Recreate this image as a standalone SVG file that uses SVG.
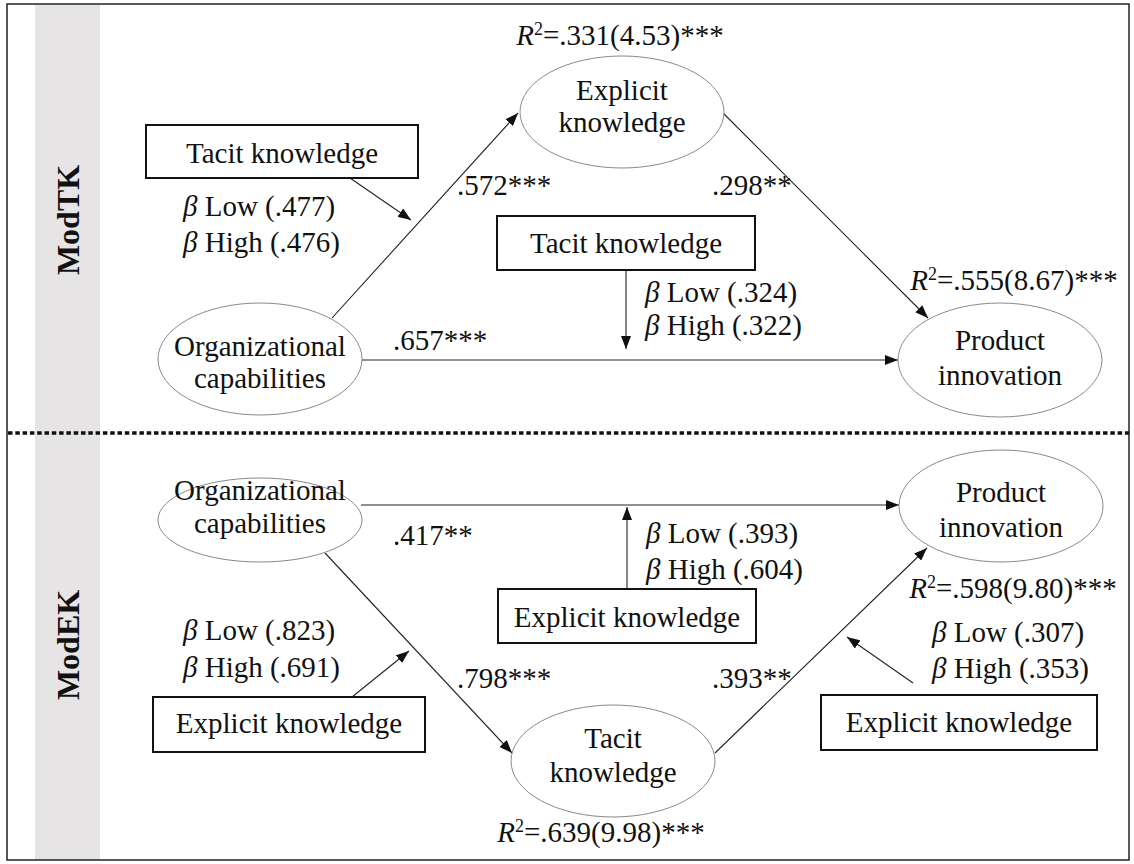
<svg xmlns="http://www.w3.org/2000/svg" width="1134" height="864" viewBox="0 0 1134 864">
<style>
text{font-size:29px;fill:#111}
.mid{text-anchor:middle}
.it{font-style:italic}
.sup{font-size:18px}
.side{font-size:32px;font-weight:bold;text-anchor:middle}
.ell{fill:#fff;stroke:#8a8a8a;stroke-width:1}
.box{fill:#fff;stroke:#111;stroke-width:2}
.con{stroke:#222;stroke-width:1.1;fill:none}
.arr{marker-end:url(#ah)}
</style>
<defs>
<marker id="ah" markerUnits="userSpaceOnUse" markerWidth="14" markerHeight="10" refX="13" refY="5" orient="auto">
<path d="M0,0 L13,5 L0,10 z" fill="#111"/>
</marker>
</defs>
<rect x="0" y="0" width="1134" height="864" fill="#fff"/>
<rect x="35" y="5" width="65" height="855" fill="#e6e4e4"/>
<rect x="7" y="4" width="1122" height="856" fill="none" stroke="#222" stroke-width="1.5"/>
<line x1="8" y1="433" x2="1129" y2="433" stroke="#111" stroke-width="3.5" stroke-dasharray="4.5 2.8"/>
<g font-family="Liberation Serif, Tinos, Times New Roman, DejaVu Serif, serif">
<text class="side" transform="translate(79,220) rotate(-90)">ModTK</text>
<text class="side" transform="translate(79,645) rotate(-90)">ModEK</text>

<g id="connectors">
<line class="con arr" x1="332" y1="318" x2="518" y2="113"/>
<line class="con arr" x1="723" y1="113" x2="928" y2="318"/>
<line class="con arr" x1="362" y1="360" x2="898" y2="360"/>
<line class="con arr" x1="350" y1="178" x2="411" y2="220"/>
<line class="con arr" x1="626" y1="270" x2="626" y2="349"/>
<line class="con arr" x1="361" y1="505" x2="899" y2="505"/>
<line class="con arr" x1="627" y1="589" x2="627" y2="507"/>
<line class="con arr" x1="325" y1="553" x2="512" y2="753"/>
<line class="con arr" x1="715" y1="753" x2="927" y2="548"/>
<line class="con arr" x1="352" y1="697" x2="409" y2="651"/>
<line class="con arr" x1="913" y1="683" x2="847" y2="637"/>
</g>

<g id="labels">
<text x="457" y="195">.572***</text>
<text x="712" y="195">.298**</text>
<text x="393" y="350">.657***</text>
<text x="393" y="545">.417**</text>
<text x="457" y="688">.798***</text>
<text x="712" y="688">.393**</text>
<text x="183" y="216"><tspan class="it">β</tspan> Low (.477)</text>
<text x="183" y="252"><tspan class="it">β</tspan> High (.476)</text>
<text x="645" y="302"><tspan class="it">β</tspan> Low (.324)</text>
<text x="645" y="335"><tspan class="it">β</tspan> High (.322)</text>
<text x="646" y="543"><tspan class="it">β</tspan> Low (.393)</text>
<text x="646" y="579"><tspan class="it">β</tspan> High (.604)</text>
<text x="183" y="640"><tspan class="it">β</tspan> Low (.823)</text>
<text x="183" y="677"><tspan class="it">β</tspan> High (.691)</text>
<text x="932" y="642"><tspan class="it">β</tspan> Low (.307)</text>
<text x="932" y="678"><tspan class="it">β</tspan> High (.353)</text>
<text class="mid" x="620" y="45"><tspan class="it">R</tspan><tspan class="sup" dy="-10">2</tspan><tspan dy="10">=.331(4.53)***</tspan></text>
<text class="mid" x="1014" y="290"><tspan class="it">R</tspan><tspan class="sup" dy="-10">2</tspan><tspan dy="10">=.555(8.67)***</tspan></text>
<text class="mid" x="1013" y="598"><tspan class="it">R</tspan><tspan class="sup" dy="-10">2</tspan><tspan dy="10">=.598(9.80)***</tspan></text>
<text class="mid" x="601" y="842"><tspan class="it">R</tspan><tspan class="sup" dy="-10">2</tspan><tspan dy="10">=.639(9.98)***</tspan></text>
</g>

<g id="top-explicit">
<ellipse class="ell" cx="622" cy="112" rx="102" ry="56"/>
<text class="mid" x="622" y="100">Explicit</text>
<text class="mid" x="622" y="132">knowledge</text>
</g>
<g id="top-org">
<ellipse class="ell" cx="260" cy="359" rx="102" ry="56"/>
<text class="mid" x="260" y="356">Organizational</text>
<text class="mid" x="260" y="388">capabilities</text>
</g>
<g id="top-product">
<ellipse class="ell" cx="1000" cy="360" rx="102" ry="57"/>
<text class="mid" x="1000" y="350">Product</text>
<text class="mid" x="1000" y="385">innovation</text>
</g>
<g id="top-tacit-box1">
<rect class="box" x="146" y="125" width="272" height="53"/>
<text class="mid" x="282" y="163">Tacit knowledge</text>
</g>
<g id="top-tacit-box2">
<rect class="box" x="497" y="216" width="258" height="54"/>
<text class="mid" x="626" y="253">Tacit knowledge</text>
</g>

<g id="bot-org">
<ellipse class="ell" cx="260" cy="520" rx="102" ry="42"/>
<text class="mid" x="260" y="500">Organizational</text>
<text class="mid" x="260" y="533">capabilities</text>
</g>
<g id="bot-product">
<ellipse class="ell" cx="1001" cy="506" rx="102" ry="56"/>
<text class="mid" x="1001" y="502">Product</text>
<text class="mid" x="1001" y="537">innovation</text>
</g>
<g id="bot-tacit">
<ellipse class="ell" cx="613" cy="761" rx="102" ry="56"/>
<text class="mid" x="613" y="748">Tacit</text>
<text class="mid" x="613" y="782">knowledge</text>
</g>
<g id="bot-explicit-box-mid">
<rect class="box" x="498" y="589" width="258" height="54"/>
<text class="mid" x="627" y="627">Explicit knowledge</text>
</g>
<g id="bot-explicit-box-left">
<rect class="box" x="153" y="697" width="272" height="55"/>
<text class="mid" x="289" y="733">Explicit knowledge</text>
</g>
<g id="bot-explicit-box-right">
<rect class="box" x="821" y="695" width="276" height="55"/>
<text class="mid" x="959" y="732">Explicit knowledge</text>
</g>
</g>
</svg>
